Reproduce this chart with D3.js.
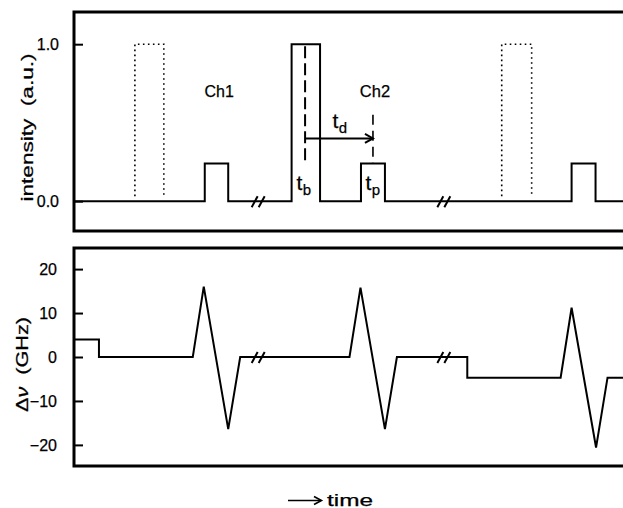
<!DOCTYPE html>
<html>
<head>
<meta charset="utf-8">
<script src="https://cdn.jsdelivr.net/npm/d3@7"></script>
<style>
    body { margin: 0; background: #fff; }
    text { font-family: "Liberation Sans", Arial, Helvetica, sans-serif; fill: #000; stroke: #000; stroke-width: 0.25px; white-space: pre; }
</style>
</head>
<body>
<div id="chart"></div>
<script>
// time axis is arbitrary units (break marks cut the time axis)
var pulseTime = [0, 26.2, 30.9, 43.6, 49.3, 57.5, 62.3, 99.7, 104.5, 110];
var pulseLevel = [0, 0.24, 0, 1, 0, 0.24, 0, 0.24, 0, 0];

// dotted reference pulses (start, end)
var ghostPulses = [[12.2, 18.0], [85.7, 91.7]];

var detuneTime = [0, 5.0, 5.0, 23.8, 26.0, 30.9, 33.3, 55.2, 57.4, 62.3, 64.7, 78.8, 78.8, 97.5, 99.7, 104.6, 106.9, 110];
var detuneGHz = [4.0, 4.0, 0, 0, 16.0, -16.4, 0, 0, 15.8, -16.4, 0, 0, -4.7, -4.7, 11.2, -20.6, -4.7, -4.7];

var breakTimes = [37.0, 74.2];

var topTicks = [0, 1];
var topTickLabels = ["0.0", "1.0"];
var bottomTicks = [-20, -10, 0, 10, 20];
var bottomTickLabels = ["\u221220", "\u221210", "0", "10", "20"];

// Define SVG area dimensions
var svgWidth = 623;
var svgHeight = 508;

var svg = d3.select("#chart")
    .append("svg")
    .attr("width", svgWidth)
    .attr("height", svgHeight);

var plotLeft = 74;
var plotRight = 623;

var xScale = d3.scaleLinear()
    .domain([0, 110])
    .range([plotLeft, plotRight]);

// upper panel: intensity
var topPanel = { top: 12, bottom: 231 };
var yTop = d3.scaleLinear()
    .domain([-0.19, 1.205])
    .range([topPanel.bottom, topPanel.top]);

// lower panel: detuning
var bottomPanel = { top: 248, bottom: 466 };
var yBottom = d3.scaleLinear()
    .domain([-24.8, 24.8])
    .range([bottomPanel.bottom, bottomPanel.top]);

function drawFrame(panel) {
    // open on the right side, like the original
    svg.append("path")
        .attr("d", `M${plotRight + 5},${panel.top} H${plotLeft} V${panel.bottom} H${plotRight + 5}`)
        .attr("fill", "none")
        .attr("stroke", "black")
        .attr("stroke-width", 3);
}

function drawTicks(yScale, ticks, labels, pad) {
    var axis = d3.axisLeft(yScale)
        .tickValues(ticks)
        .tickSizeInner(-9)
        .tickSizeOuter(0)
        .tickPadding(pad)
        .tickFormat((d, i) => labels[i]);

    var g = svg.append("g")
        .attr("transform", `translate(${plotLeft}, 0)`)
        .call(axis);
    g.select(".domain").remove();
    g.selectAll(".tick line")
        .attr("stroke", "black")
        .attr("stroke-width", 2);
    g.selectAll(".tick text")
        .style("font-family", "'Liberation Sans', Arial, sans-serif")
        .style("font-size", "16px")
        .attr("fill", "black");
}

function drawBreaks(yScale, level) {
    breakTimes.forEach(function (t) {
        var cx = xScale(t);
        var cy = yScale(level);
        [-4, 3].forEach(function (dx) {
            svg.append("line")
                .attr("x1", cx + dx - 3)
                .attr("y1", cy + 6)
                .attr("x2", cx + dx + 3)
                .attr("y2", cy - 5)
                .attr("stroke", "black")
                .attr("stroke-width", 2);
        });
    });
}

drawFrame(topPanel);
drawFrame(bottomPanel);
drawTicks(yTop, topTicks, topTickLabels, 15);
drawTicks(yBottom, bottomTicks, bottomTickLabels, 17);

// ghost pulses (dotted)
ghostPulses.forEach(function (p) {
    svg.append("path")
        .attr("d", `M${xScale(p[0])},${yTop(0) - 5} V${yTop(1)} H${xScale(p[1])} V${yTop(0) - 5}`)
        .attr("fill", "none")
        .attr("stroke", "black")
        .attr("stroke-width", 1.6)
        .attr("stroke-dasharray", "1.6,3.4");
});

// intensity trace
var pulseLine = d3.line()
    .x(d => xScale(d[0]))
    .y(d => yTop(d[1]))
    .curve(d3.curveStepAfter);

svg.append("path")
    .datum(d3.zip(pulseTime, pulseLevel))
    .attr("d", pulseLine)
    .attr("fill", "none")
    .attr("stroke", "black")
    .attr("stroke-width", 2);

drawBreaks(yTop, 0);

// dashed markers t_b and t_p
var tbTime = 46.3;
var tpTime = 59.9;

svg.append("line")
    .attr("x1", xScale(tbTime)).attr("x2", xScale(tbTime))
    .attr("y1", yTop(1) + 2).attr("y2", yTop(0.23))
    .attr("stroke", "black")
    .attr("stroke-width", 2)
    .attr("stroke-dasharray", "12,5");

svg.append("line")
    .attr("x1", xScale(tpTime)).attr("x2", xScale(tpTime))
    .attr("y1", yTop(0.55)).attr("y2", yTop(0.24))
    .attr("stroke", "black")
    .attr("stroke-width", 1.6)
    .attr("stroke-dasharray", "10,6");

// t_d arrow
var arrowY = yTop(0.40);
svg.append("line")
    .attr("x1", xScale(tbTime)).attr("x2", xScale(tpTime) - 1)
    .attr("y1", arrowY).attr("y2", arrowY)
    .attr("stroke", "black")
    .attr("stroke-width", 2);
svg.append("path")
    .attr("d", `M${xScale(tpTime) - 8},${arrowY - 4.5} L${xScale(tpTime)},${arrowY} L${xScale(tpTime) - 8},${arrowY + 4.5}`)
    .attr("fill", "none")
    .attr("stroke", "black")
    .attr("stroke-width", 2);

// annotations
svg.append("text")
    .attr("x", xScale(29.1)).attr("y", 97)
    .attr("text-anchor", "middle")
    .style("font-size", "16px")
    .text("Ch1");

svg.append("text")
    .attr("x", xScale(60.3)).attr("y", 97)
    .attr("text-anchor", "middle")
    .style("font-size", "16.5px")
    .text("Ch2");

function subLabel(x, y, sub) {
    var t = svg.append("text")
        .attr("x", x).attr("y", y)
        .style("font-size", "21px");
    t.append("tspan").text("t");
    t.append("tspan")
        .attr("dy", 5)
        .attr("dx", 0.5)
        .style("font-size", "15px")
        .text(sub);
}

subLabel(332.5, 127.5, "d");
subLabel(296.5, 190, "b");
subLabel(365.5, 190, "p");

// detuning trace
var detuneLine = d3.line()
    .x(d => xScale(d[0]))
    .y(d => yBottom(d[1]));

svg.append("path")
    .datum(d3.zip(detuneTime, detuneGHz))
    .attr("d", detuneLine)
    .attr("fill", "none")
    .attr("stroke", "black")
    .attr("stroke-width", 2)
    .attr("stroke-linejoin", "miter");

drawBreaks(yBottom, 0);

// axis titles
svg.append("text")
    .attr("transform", "translate(33, 127.5) rotate(-90)")
    .attr("text-anchor", "middle")
    .attr("textLength", 148)
    .attr("lengthAdjust", "spacingAndGlyphs")
    .style("font-size", "17px")
    .text("intensity  (a.u.)");

var dnu = svg.append("text")
    .attr("transform", "translate(27.5, 364.5) rotate(-90)")
    .attr("text-anchor", "middle")
    .attr("textLength", 95)
    .attr("lengthAdjust", "spacingAndGlyphs")
    .style("font-size", "16px");
dnu.append("tspan").text("\u0394");
dnu.append("tspan").style("font-style", "italic").text("\u03bd");
dnu.append("tspan").text("  (GHz)");

// time arrow
svg.append("line")
    .attr("x1", 288).attr("x2", 321)
    .attr("y1", 500.5).attr("y2", 500.5)
    .attr("stroke", "black")
    .attr("stroke-width", 1.6);
svg.append("path")
    .attr("d", "M314,496.5 L321.5,500.5 L314,504.5")
    .attr("fill", "none")
    .attr("stroke", "black")
    .attr("stroke-width", 1.6);

svg.append("text")
    .attr("x", 327).attr("y", 505.5)
    .attr("textLength", 46)
    .attr("lengthAdjust", "spacingAndGlyphs")
    .style("font-size", "17px")
    .text("time");
</script>
</body>
</html>
